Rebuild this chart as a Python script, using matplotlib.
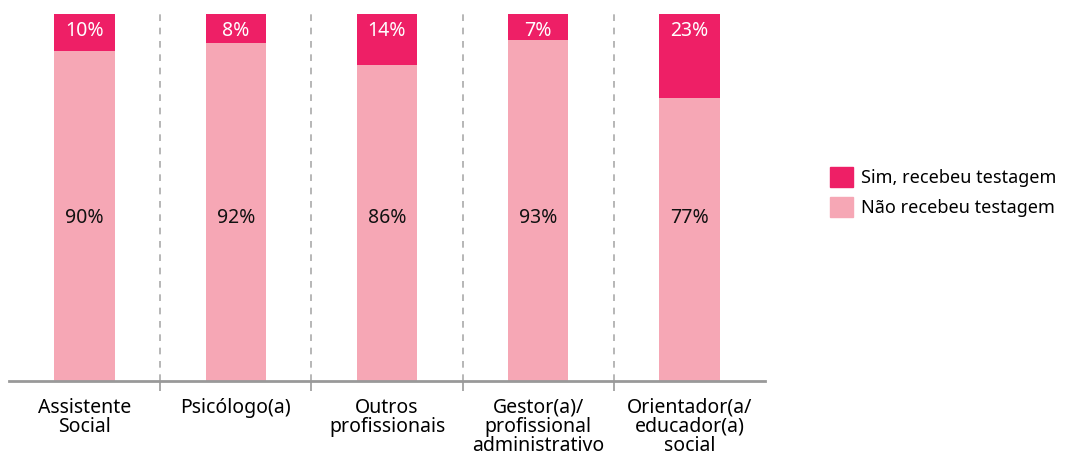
import numpy as np
import matplotlib
matplotlib.use('Agg')
import matplotlib.pyplot as plt
from matplotlib.patches import Patch

plt.rcParams['font.family'] = ['Noto Sans', 'DejaVu Sans']

categorias = ['Assistente\nSocial', 'Psicólogo(a)', 'Outros\nprofissionais',
              'Gestor(a)/\nprofissional\nadministrativo',
              'Orientador(a/\neducador(a)\nsocial']
sim = [10, 8, 14, 7, 23]
nao = [90, 92, 86, 93, 77]

cor_sim = '#EE1F66'
cor_nao = '#F6A7B5'

fig = plt.figure(figsize=(10.71, 4.59), dpi=100)
ax = fig.add_axes([9/1071, 1 - 381/459, 756/1071, 367/459])

ind = np.arange(len(categorias))
width = 0.4
ax.bar(ind, nao, width, color=cor_nao)
ax.bar(ind, sim, width, bottom=nao, color=cor_sim)

for i in ind:
    ax.text(i, 95.5, '%d%%' % sim[i], ha='center', va='center', color='white',
            fontsize=14, fontweight='medium')
    ax.text(i, 44.5, '%d%%' % nao[i], ha='center', va='center', color='#111111',
            fontsize=14, fontweight='medium')

for x in ind[:-1] + 0.5:
    ax.axvline(x, ymin=0, ymax=1, color='#AAAAAA', linestyle=(0, (4, 4)), lw=1.2)

ax.set_xlim(-0.5, len(categorias) - 0.5)
ax.set_ylim(0, 100)
ax.set_yticks([])
ax.set_xticks(ind[:-1] + 0.5)
ax.set_xticklabels([])
ax.tick_params(axis='x', length=7, color='#999999', width=1.2)
ax.set_xticks(ind, minor=True)
ax.set_xticklabels(categorias, minor=True, fontsize=14, linespacing=0.95)
ax.tick_params(axis='x', which='minor', length=0, pad=12)
for s in ['top', 'right', 'left']:
    ax.spines[s].set_visible(False)
ax.spines['bottom'].set_color('#999999')
ax.spines['bottom'].set_linewidth(2)

handles = [Patch(color=cor_sim, label='Sim, recebeu testagem'),
           Patch(color=cor_nao, label='Não recebeu testagem')]
fig.legend(handles=handles, loc='center left', bbox_to_anchor=(830/1071, 1 - 192/459),
           frameon=False, fontsize=13, handlelength=1.3, handleheight=1.3,
           handletextpad=0.4, labelspacing=0.55, borderpad=0, borderaxespad=0)

plt.savefig('out.png')
